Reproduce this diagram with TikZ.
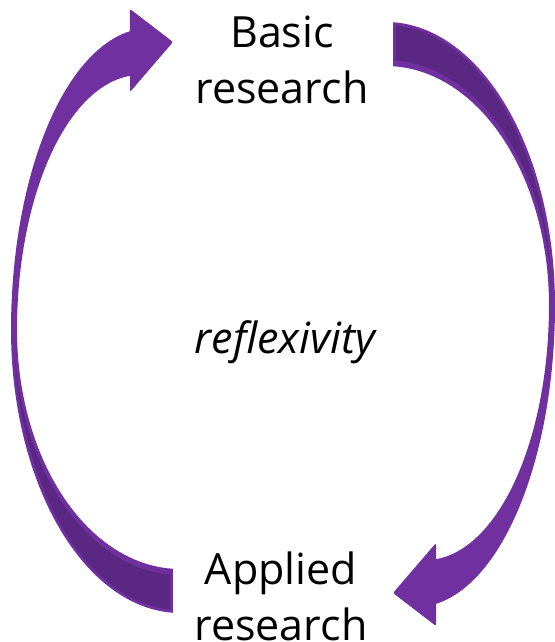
\documentclass[tikz,border=0pt]{standalone}
\usepackage{fontspec}
\setmainfont{Open Sans}
\definecolor{purp}{RGB}{112,48,160}
\definecolor{purpdark}{RGB}{90,40,130}
\tikzset{
  lbl/.style={align=center, inner sep=0pt, font=\fontsize{43}{56}\selectfont},
  curvarrow/.pic={
    \fill[purp] (173,613)
      -- plot[domain=92.4:180,samples=50] ({180+169*cos(\x)},{330+283*sin(\x)})
      -- plot[domain=180:261.7,samples=50] ({150+139*cos(\x)},{330+302*sin(\x)})
      [rounded corners=2] -- (130,9) -- (173,42) -- (130,92) [sharp corners]
      -- (130,76)
      -- plot[domain=265.3:180,samples=50] ({140+123*cos(\x)},{330+255*sin(\x)})
      -- plot[domain=180:92.5,samples=50] ({180+163*cos(\x)},{330+239*sin(\x)})
      -- cycle;
    \fill[purpdark] (170,609)
      -- plot[domain=93.45:180,samples=50] ({180+166*cos(\x)},{330+280*sin(\x)})
      -- plot[domain=180:93.45,samples=50] ({180+166*cos(\x)},{330+245*sin(\x)})
      -- cycle;
  }
}
\begin{document}
\begin{tikzpicture}[x=1pt,y=-1pt]
\useasboundingbox (0,0) rectangle (554,642);
\pic at (0,0) {curvarrow};
\pic[rotate=180] at (566,635) {curvarrow};
\node[lbl] (basic) at (282,60) {Basic\\research};
\node[lbl] (applied) at (281,596) {Applied\\research};
\node[lbl, font=\fontsize{43}{56}\selectfont\itshape] (refl) at (285,342) {reflexivity};
\end{tikzpicture}
\end{document}
